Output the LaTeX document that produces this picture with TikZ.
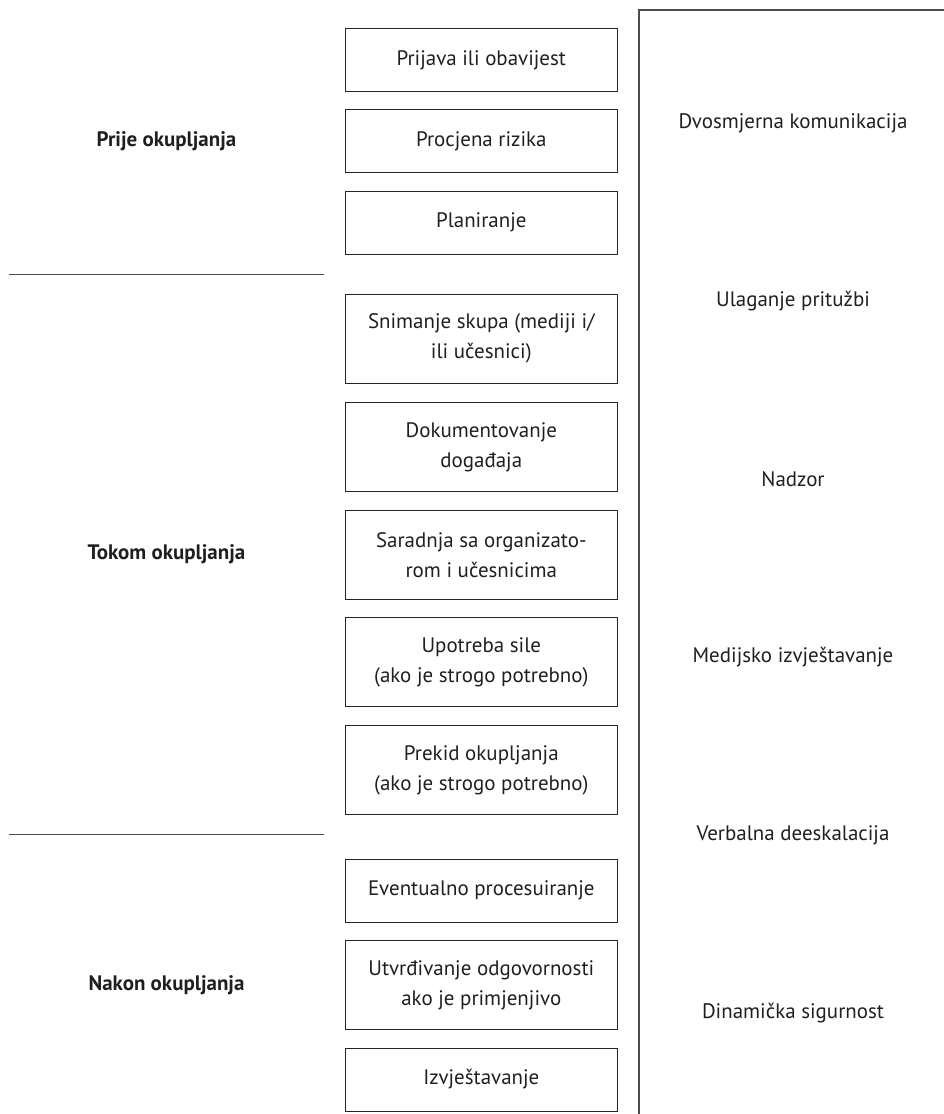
\documentclass[tikz,border=0pt]{standalone}
\usepackage{fontspec}
\setmainfont{PT Sans}
\begin{document}
\begin{tikzpicture}[x=0.25mm,y=-0.25mm,line width=0.7pt,
  every node/.style={font=\fontsize{14.9}{21.3}\selectfont,text=black!88,align=center,inner sep=0pt},
  korak/.style={draw=black!85,minimum width=68mm,minimum height=15.75mm},
  korak2/.style={korak,minimum height=22.25mm},
  faza/.style={font=\fontsize{14.9}{21.3}\selectfont\bfseries}]
\useasboundingbox (0,0) rectangle (944,1114);
\coordinate (S1a) at (9,274.6);
\coordinate (S1b) at (324,274.6);
\coordinate (S2a) at (9,834.7);
\coordinate (S2b) at (324,834.7);
\coordinate (R0) at (639,1114);
\coordinate (R1) at (639,10);
\coordinate (R2) at (944,10);
% koraci
\node[korak] (prijava) at (481.3,60.3) {Prijava ili obavijest};
\node[korak] (procjena) at (481.3,141.3) {Procjena rizika};
\node[korak] (plan) at (481.3,222.7) {Planiranje};
\node[korak2] (snimanje) at (481.3,338.8) {Snimanje skupa (mediji i/\\ili učesnici)};
\node[korak2] (dok) at (481.3,447) {Dokumentovanje\\događaja};
\node[korak2] (saradnja) at (481.3,554.7) {Saradnja sa organizato-\\rom i učesnicima};
\node[korak2] (sila) at (481.3,662.2) {Upotreba sile\\(ako je strogo potrebno)};
\node[korak2] (prekid) at (481.3,770) {Prekid okupljanja\\(ako je strogo potrebno)};
\node[korak] (proces) at (481.3,890.7) {Eventualno procesuiranje};
\node[korak2] (odgov) at (481.3,985.3) {Utvrđivanje odgovornosti\\ako je primjenjivo};
\node[korak] (izvj) at (481.3,1079.5) {Izvještavanje};
% faze
\node[faza] (prije) at (166.5,141.3) {Prije okupljanja};
\node[faza] (tokom) at (166.5,554.7) {Tokom okupljanja};
\node[faza] (nakon) at (166.5,985.3) {Nakon okupljanja};
\begin{scope}[draw=black!70,line width=0.9pt]
\draw (S1a) -- (S1b);
\draw (S2a) -- (S2b);
\draw (R0) -- (R1) -- (R2);
\end{scope}
% desno
\node (dvosm) at (793,123) {Dvosmjerna komunikacija};
\node (ulag) at (793,301) {Ulaganje pritužbi};
\node (nadzor) at (793,479) {Nadzor};
\node (medij) at (793,657) {Medijsko izvještavanje};
\node (verb) at (793,835) {Verbalna deeskalacija};
\node (dinam) at (793,1013) {Dinamička sigurnost};
\end{tikzpicture}
\end{document}
